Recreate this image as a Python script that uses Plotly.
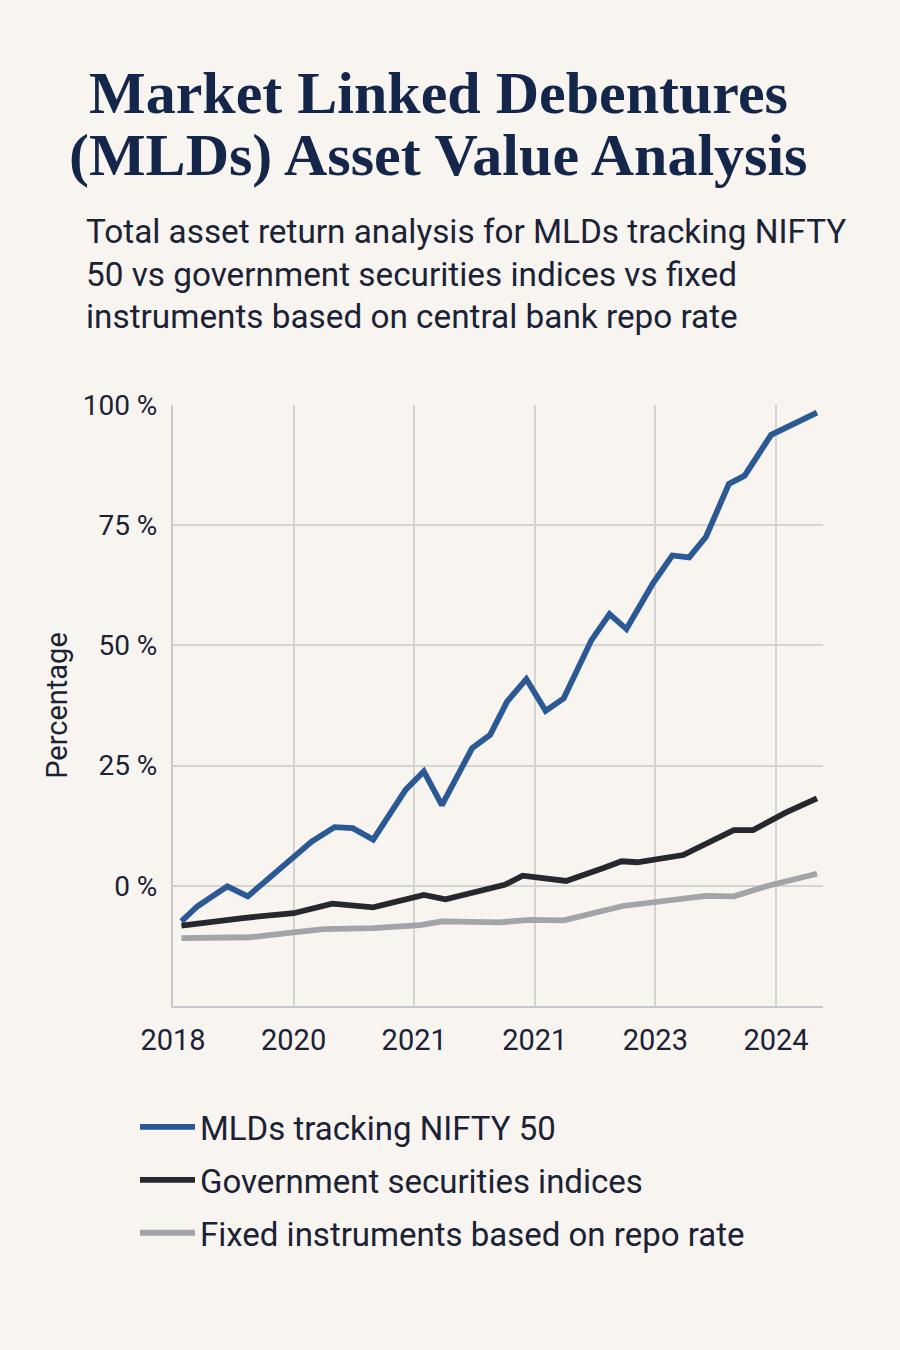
import plotly.graph_objects as go

# x positions on the time axis (tick 0 = 2018 ... tick 5 = 2024)
mld_x = [0.07, 0.2, 0.45, 0.62, 1.15, 1.34, 1.49, 1.66, 1.93, 2.08, 2.23, 2.48, 2.63,
         2.77, 2.93, 3.09, 3.24, 3.47, 3.62, 3.76, 3.98, 4.14, 4.28, 4.42, 4.61, 4.74,
         4.96, 5.34]
mld_y = [-7.4, -4.3, -0.1, -2.2, 9.2, 12.2, 12.0, 9.6, 20.0, 23.8, 16.8, 28.6, 31.4,
         38.3, 43.0, 36.4, 39.0, 51.1, 56.5, 53.4, 62.9, 68.7, 68.3, 72.6, 83.6, 85.3,
         93.8, 98.4]

gsec_x = [0.07, 0.58, 1.0, 1.32, 1.66, 2.08, 2.26, 2.75, 2.9, 3.26, 3.57, 3.72, 3.85,
          4.23, 4.65, 4.81, 5.08, 5.34]
gsec_y = [-8.3, -6.7, -5.7, -3.7, -4.5, -1.9, -2.8, 0.2, 2.1, 1.0, 3.7, 5.1, 4.9,
          6.4, 11.6, 11.6, 15.2, 18.2]

repo_x = [0.07, 0.64, 1.0, 1.25, 1.66, 2.05, 2.23, 2.71, 2.96, 3.24, 3.73, 4.01, 4.42,
          4.65, 4.92, 5.34]
repo_y = [-10.9, -10.7, -9.7, -9.0, -8.8, -8.2, -7.4, -7.6, -7.1, -7.2, -4.2, -3.3,
          -2.1, -2.2, -0.1, 2.5]

tick_pos = [0, 1, 2, 3, 4, 5]
tick_text = ["2018", "2020", "2021", "2021", "2023", "2024"]
y_ticks = [0, 25, 50, 75, 100]

title_lines = ["Market Linked Debentures", "(MLDs) Asset Value Analysis"]
subtitle_lines = [
    "Total asset return analysis for MLDs tracking NIFTY",
    "50 vs government securities indices vs fixed",
    "instruments based on central bank repo rate",
]

BG = "#f8f4ef"
SANS = "Roboto, Liberation Sans, sans-serif"
INK = "#1b2236"

fig = go.Figure()
series = [
    ("MLDs tracking NIFTY 50", mld_x, mld_y, "#2a5995"),
    ("Government securities indices", gsec_x, gsec_y, "#27282e"),
    ("Fixed instruments based on repo rate", repo_x, repo_y, "#a3a4a8"),
]
for i, (name, xs, ys, col) in enumerate(series):
    fig.add_trace(go.Scatter(
        x=xs, y=ys, mode="lines", name=name, legendgroup=str(i),
        line=dict(color=col, width=5.8),
    ))

# title + subtitle as annotations so line spacing can match
P_TOP, P_BOT = 405, 1006


def py(px):
    return (P_BOT - px) / (P_BOT - P_TOP)


def pxx(px):
    return (px - 173) / 650


for txt, yc in zip(title_lines, [93, 155]):
    fig.add_annotation(
        text=txt, xref="paper", yref="paper", x=pxx(438), y=py(yc),
        xanchor="center", yanchor="middle", showarrow=False,
        font=dict(family="Liberation Serif, serif", size=60, color="#14264a", weight="bold"),
    )
for txt, yc in zip(subtitle_lines, [231, 274, 317]):
    fig.add_annotation(
        text=txt, xref="paper", yref="paper", x=pxx(84), y=py(yc),
        xanchor="left", yanchor="middle", showarrow=False, align="left",
        font=dict(family=SANS, size=33.3, color=INK),
    )

fig.update_layout(
    width=900, height=1350,
    paper_bgcolor=BG, plot_bgcolor=BG,
    margin=dict(l=173, r=77, t=405, b=344),
    showlegend=True,
    legend=dict(
        x=pxx(135), y=py(1099), xanchor="left", yanchor="top",
        font=dict(family=SANS, size=33, color=INK),
        tracegroupgap=7, itemwidth=55, bgcolor="rgba(0,0,0,0)",
    ),
    yaxis_title=dict(text="Percentage", font=dict(family=SANS, size=29, color=INK), standoff=7),
)
fig.update_xaxes(
    range=[0, 5.39], tickvals=tick_pos, ticktext=tick_text,
    showgrid=True, gridcolor="#d6d4d2", gridwidth=1.5,
    showline=True, linecolor="#c8c8cc", linewidth=2,
    zeroline=False, ticks="", ticklabelstandoff=7,
    tickfont=dict(family=SANS, size=29, color=INK),
)
fig.update_yaxes(
    range=[-25, 100], tickvals=y_ticks, ticktext=[f"{v} %" for v in y_ticks],
    showgrid=True, gridcolor="#d6d4d2", gridwidth=1.5,
    showline=True, linecolor="#c8c8cc", linewidth=2,
    zeroline=False, ticks="", ticklabelstandoff=8,
    tickfont=dict(family=SANS, size=28, color=INK),
)

fig.write_html(
    "out.html",
    config={"displayModeBar": False},
    post_script="document.body.style.margin='0';document.body.style.background='#f8f4ef';",
)
